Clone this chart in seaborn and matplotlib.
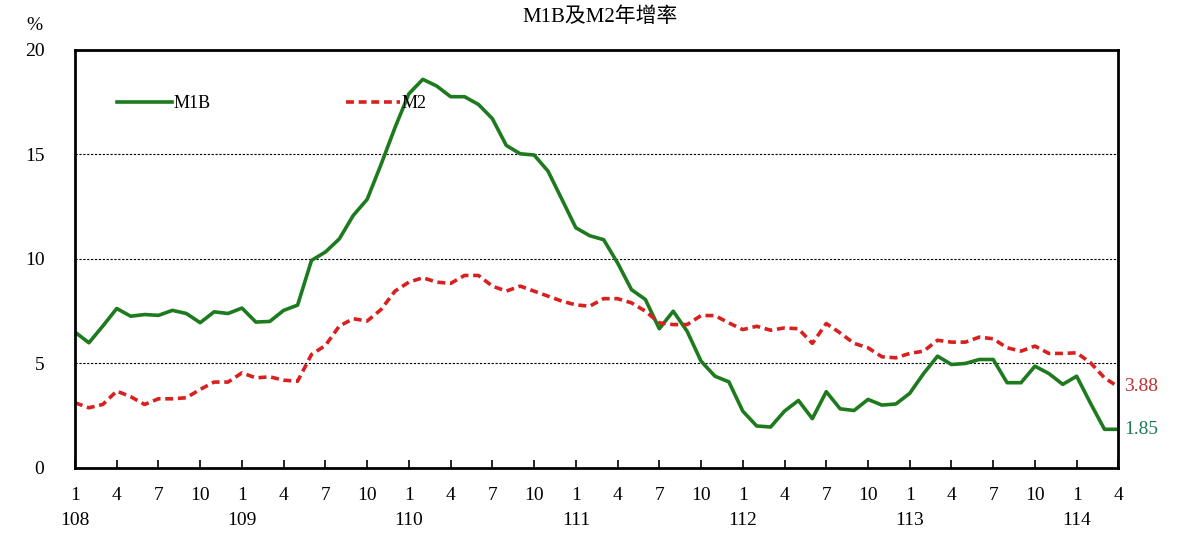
import numpy as np
import pandas as pd
import seaborn as sns
import matplotlib.pyplot as plt

plt.rcParams["font.family"] = ["Liberation Serif", "Noto Sans CJK TC"]

# monthly, 108/1 .. 114/4
m1b = [6.50, 5.99, 6.79, 7.63, 7.26, 7.34, 7.30, 7.54, 7.39, 6.95, 7.47, 7.39,
       7.65, 6.98, 7.01, 7.54, 7.79, 9.93, 10.33, 10.96, 12.08, 12.85, 14.52, 16.28,
       17.90, 18.59, 18.27, 17.76, 17.76, 17.39, 16.71, 15.43, 15.03, 14.97, 14.20, 12.85,
       11.49, 11.11, 10.92, 9.81, 8.53, 8.06, 6.66, 7.50, 6.54, 5.11, 4.39, 4.12,
       2.72, 2.01, 1.96, 2.72, 3.23, 2.36, 3.65, 2.83, 2.75, 3.28, 3.01, 3.06,
       3.57, 4.52, 5.35, 4.95, 5.00, 5.19, 5.19, 4.08, 4.08, 4.87, 4.52, 4.00,
       4.39, 3.09, 1.85, 1.85]
m2 = [3.12, 2.88, 3.04, 3.68, 3.41, 3.04, 3.31, 3.31, 3.36, 3.76, 4.11, 4.11,
      4.55, 4.31, 4.36, 4.20, 4.15, 5.43, 5.86, 6.79, 7.14, 7.03, 7.58, 8.46,
      8.89, 9.10, 8.89, 8.83, 9.21, 9.21, 8.70, 8.46, 8.70, 8.46, 8.22, 7.98,
      7.80, 7.74, 8.10, 8.10, 7.90, 7.50, 6.94, 6.86, 6.86, 7.29, 7.29, 6.94,
      6.62, 6.78, 6.59, 6.70, 6.66, 5.96, 6.91, 6.46, 5.96, 5.75, 5.32, 5.27,
      5.48, 5.59, 6.11, 6.02, 6.02, 6.26, 6.18, 5.75, 5.59, 5.83, 5.48, 5.48,
      5.51, 5.03, 4.31, 3.88]
years = [108, 109, 110, 111, 112, 113, 114]

idx = np.arange(len(m1b))
df = pd.DataFrame({"t": idx, "M1B": m1b, "M2": m2})

fig = plt.figure(figsize=(12, 5.48), dpi=100)
ax = fig.add_axes([0.0625, 0.146, 0.8695, 0.763])

green = "#1e7a1e"
red = "#d92020"
sns.lineplot(data=df, x="t", y="M1B", ax=ax, color=green, lw=2.6, label="M1B")
sns.lineplot(data=df, x="t", y="M2", ax=ax, color=red, lw=2.6, ls=(0, (2.2, 1.3)), label="M2")

ax.set_xlim(0, len(m1b) - 1)
ax.set_ylim(0, 20)
ax.set_yticks([0, 5, 10, 15, 20])
ax.tick_params(axis="y", length=0, labelsize=14, pad=22)
ticks = idx[::3]
labels = []
for t in ticks:
    mon = t % 12 + 1
    labels.append(f"{mon}\n{years[t // 12]}" if mon == 1 else f"{mon}\n")
ax.set_xticks(ticks)
ax.set_xticklabels(labels, fontsize=14, linespacing=1.6)
ax.tick_params(axis="x", direction="in", length=6, width=1.2, pad=14)
for y in [5, 10, 15]:
    ax.axhline(y, color="black", lw=0.8, ls=(0, (2, 1.5)), zorder=0)
for s in ax.spines.values():
    s.set_linewidth(2)
ax.set_xlabel("")
ax.set_ylabel("")

ax.text(len(m1b) - 1 + 0.4, m2[-1], f"{m2[-1]:.2f}", color="#c03030", fontsize=14, va="center")
ax.text(len(m1b) - 1 + 0.4, m1b[-1], f"{m1b[-1]:.2f}", color="#1e7a50", fontsize=14, va="center")
fig.text(0.022, 0.945, "%", fontsize=14)
fig.text(0.5, 0.96, "M1B及M2年增率", fontsize=15, ha="center")

ax.legend(loc="upper left", bbox_to_anchor=(0.025, 0.93), ncol=2, frameon=False,
          handlelength=3.0, handletextpad=0.1, columnspacing=7.5, fontsize=13)

fig.savefig("out.png")
